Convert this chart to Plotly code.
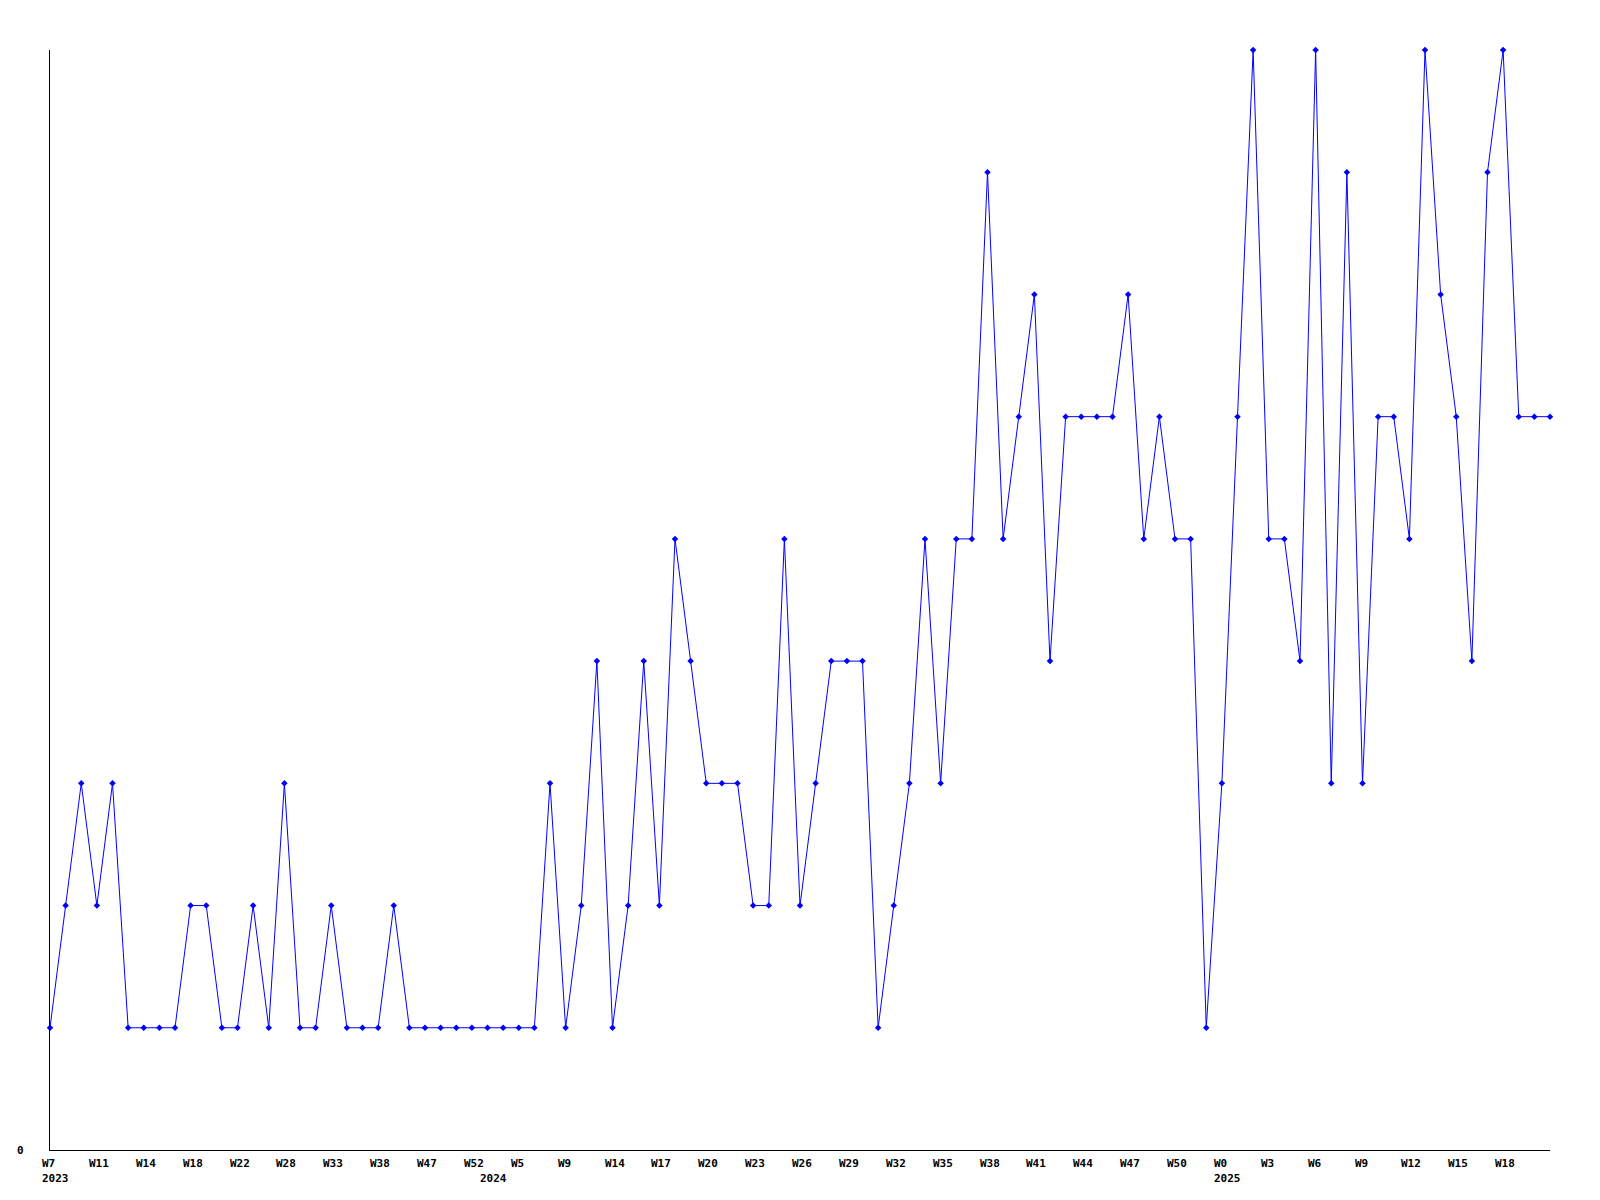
import plotly.graph_objects as go

# Weekly values (one per point, in order)
values = [
    1, 2, 3, 2, 3, 1, 1, 1, 1, 2,
    2, 1, 1, 2, 1, 3, 1, 1, 2, 1,
    1, 1, 2, 1, 1, 1, 1, 1, 1, 1,
    1, 1, 3, 1, 2, 4, 1, 2, 4, 2,
    5, 4, 3, 3, 3, 2, 2, 5, 2, 3,
    4, 4, 4, 1, 2, 3, 5, 3, 5, 5,
    8, 5, 6, 7, 4, 6, 6, 6, 6, 7,
    5, 6, 5, 5, 1, 3, 6, 9, 5, 5,
    4, 9, 3, 8, 3, 6, 6, 5, 9, 7,
    6, 4, 8, 9, 6, 6, 6,
]

# Week tick labels, shown on every third point
week_labels = [
    "W7", "W11", "W14", "W18", "W22", "W28", "W33", "W38", "W47", "W52",
    "W5", "W9", "W14", "W17", "W20", "W23", "W26", "W29", "W32", "W35",
    "W38", "W41", "W44", "W47", "W50", "W0", "W3", "W6", "W9", "W12",
    "W15", "W18",
]
label_step = 3

# Year labels and the point index where each year starts
year_labels = ["2023", "2024", "2025"]
year_points = [0, 28, 75]

x = list(range(len(values)))

fig = go.Figure()
fig.add_trace(go.Scatter(
    x=x, y=values, mode="lines+markers",
    line=dict(color="#0000ff", width=1),
    marker=dict(symbol="diamond", size=5, color="#0000ff"),
    cliponaxis=False, showlegend=False,
))

font = dict(family="DejaVu Sans Mono", size=11, color="#000000")
annotations = []
for k, lab in enumerate(week_labels):
    annotations.append(dict(
        x=k * label_step, y=0, xref="x", yref="paper", text="<b>%s</b>" % lab,
        showarrow=False, xanchor="left", yanchor="middle", xshift=-10, yshift=-13,
        font=font,
    ))
for lab, p in zip(year_labels, year_points):
    annotations.append(dict(
        x=p, y=0, xref="x", yref="paper", text="<b>%s</b>" % lab,
        showarrow=False, xanchor="left", yanchor="middle", xshift=-10, yshift=-28,
        font=font,
    ))
annotations.append(dict(
    x=0, y=0, xref="paper", yref="y", text="<b>0</b>", showarrow=False,
    xanchor="right", yanchor="middle", xshift=-24, font=font,
))

fig.update_layout(
    width=1600, height=1200,
    margin=dict(l=42, r=58, t=42, b=58),
    paper_bgcolor="white", plot_bgcolor="white",
    annotations=annotations,
    xaxis=dict(range=[0, len(values) - 1], showgrid=False, zeroline=False,
               showline=True, linecolor="black", linewidth=1,
               showticklabels=False, ticks=""),
    yaxis=dict(range=[0, 9], showgrid=False, zeroline=False,
               showline=True, linecolor="black", linewidth=1,
               showticklabels=False, ticks=""),
)

fig.write_html("out.html")
